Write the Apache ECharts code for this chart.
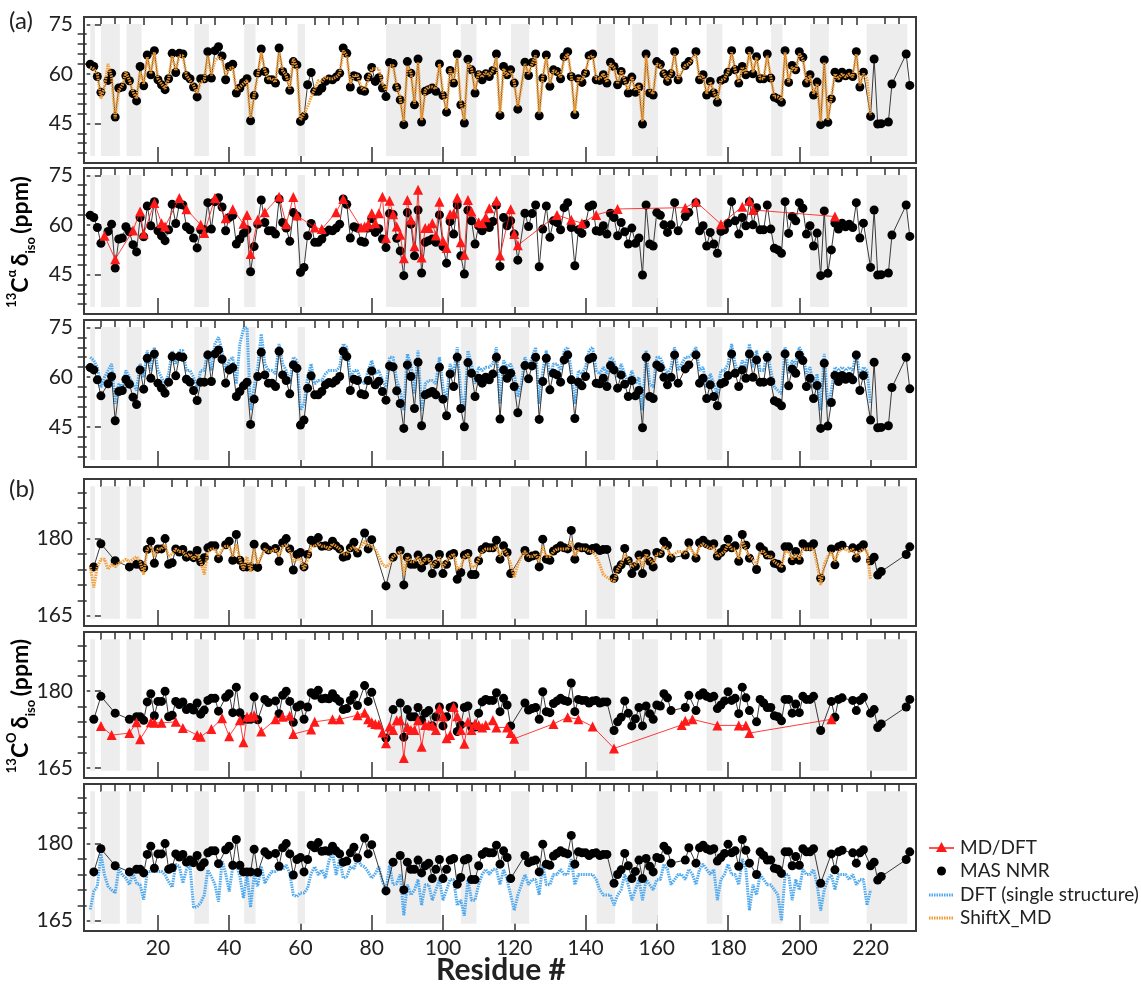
<!DOCTYPE html>
<html>
<head>
<meta charset="utf-8">
<script src="https://cdn.jsdelivr.net/npm/echarts@6/dist/echarts.min.js"></script>
<style>
html,body{margin:0;padding:0;background:#fff}
#main{width:1141px;height:986px}
</style>
</head>
<body>
<div id="main"></div>
<script>
// residue axis ticks
var xMajor = [20, 40, 60, 80, 100, 120, 140, 160, 180, 200, 220];
var xMinor = [4, 8, 12, 16, 24, 28, 32, 36, 44, 48, 52, 56, 64, 68, 72, 76, 84, 88, 92, 96, 104, 108, 112, 116,
  124, 128, 132, 136, 144, 148, 152, 156, 164, 168, 172, 176, 184, 188, 192, 196, 204, 208, 212, 216, 224, 228];
var caMajor = [45, 60, 75];
var caMinor = [36, 39, 42, 48, 51, 54, 57, 63, 66, 69, 72];
var coMajor = [165, 180];
var coMinor = [168, 171, 174, 177, 183, 186, 189];

// shaded residue ranges
var bands = [[1, 2.3], [4, 9.3], [11.2, 15.4], [30.2, 34.3], [44.2, 47.4], [59.2, 61.3], [84, 99.4], [105, 109.4],
  [119.1, 124.2], [143.1, 148.3], [153.1, 160.3], [174, 178.4], [192.1, 195.3], [203, 208.3], [218.9, 230.3]];

// MAS NMR Calpha [residue, ppm]
var caNMR = [[1,62.9],[2,62.2],[3,59.2],[4,54.4],[6,58],[7,60.2],[8,46.9],[9,55.7],[10,56],[11,59.4],[12,57.9],[13,54],[14,51.8],[15,62.2],[16,56.4],[17,65.7],[18,59.7],[19,67],[20,58.2],
  [21,56.7],[22,55.2],[23,58.5],[24,66.2],[25,60.4],[26,66.2],[27,66],[28,59.4],[29,58.5],[30,56],[31,53],[32,58.5],[33,58.5],[34,66.7],[35,58.7],[36,67],[37,68.2],[38,65.4],[39,58.2],[40,62.2],
  [41,62.9],[42,54.2],[43,55.7],[44,57.4],[45,58.5],[46,45.8],[47,53.4],[48,60.2],[49,67.5],[50,60.7],[51,58.2],[52,58.2],[53,57.2],[54,67.8],[55,60.7],[56,59],[57,55],[58,63.7],[59,62.7],[60,45.6],
  [61,47.1],[62,56.7],[63,60.4],[64,54.7],[65,54.7],[66,55.7],[67,57.7],[68,58.4],[69,58.2],[70,59],[71,60.2],[72,67.8],[73,66.2],[74,56],[75,59.4],[76,59],[77,55],[78,54.7],[79,59],[80,61.9],
  [81,57.7],[82,58.8],[83,55.7],[84,53.1],[85,63.4],[86,63.1],[87,55.9],[88,52.1],[89,44.6],[90,63.7],[91,60.2],[92,50.6],[93,64.5],[94,45.4],[95,54.7],[96,55.2],[97,55.7],[98,54.7],[99,63],[100,53.4],
  [101,48.4],[102,61],[103,57.2],[104,66],[105,50.6],[106,45.1],[107,64.4],[108,61.2],[109,54.2],[110,59.7],[111,58.2],[112,60],[113,59.2],[114,61],[115,66],[116,47.4],[117,62.2],[118,59.7],[119,61.2],[120,57.2],
  [121,49.3],[123,63.5],[124,59.5],[125,63.4],[126,66],[127,47.3],[128,58.7],[129,65.7],[130,56.2],[131,61.2],[132,60.7],[133,58.5],[134,65.2],[135,66.7],[136,59.2],[137,47.6],[138,58.5],[139,57.4],[140,60.2],
  [141,65.5],[142,66],[143,58.2],[144,58],[145,59.7],[146,57.2],[147,63.5],[148,62.2],[149,56.7],[150,60.7],[151,57.9],[152,54.2],[153,59],[154,54.4],[155,56],[156,44.8],[157,66],[158,54.2],[159,53.6],[160,63.7],
  [161,62.9],[162,60],[163,57.7],[164,60],[165,66.7],[166,58.2],[168,62.5],[169,63.7],[171,66.7],[172,58.2],[173,59.7],[174,53.6],[175,57.7],[176,54.2],[177,51.4],[178,58],[179,58.5],[180,60.5],
  [181,67],[182,61.2],[183,57.2],[184,62.2],[185,59.7],[186,67],[187,60],[188,65.2],[189,58.5],[190,58.5],[191,66],[192,58.7],[193,52.9],[194,52.4],[195,51.4],[196,67],[197,57.4],[198,62.5],[199,61.2],[200,66.7],
  [201,65],[202,57.2],[203,59.7],[204,53.6],[205,57.5],[206,44.6],[207,64.2],[208,45.3],[209,52.4],[210,60.5],[211,58.7],[212,60.5],[213,59.4],[214,60.2],[215,59.2],[216,66.7],[217,56],[218,60.5],
  [220,47.1],[221,64.5],[222,44.8],[223,44.9],[225,45.4],[226,56.9],[230,66],[231,56.5]];

// ShiftX_MD Calpha, residues 1..220
var caShiftX = [62,61.5,60,52.5,56,63,59,46.5,55,56.5,60.5,58,54.5,52.5,60.5,57,65,60,66.5,58.5,
  57,55.5,58.5,65.5,61,65.5,65.5,59.5,58,56.5,54,57.5,58,65.5,59.5,64,65,64.5,59.5,61.5,
  62,55,56,57,58,46.5,53.5,59.5,66.5,61,58.5,58.5,57.5,66.5,61,59.5,55.5,64.5,62,46,
  48,50,53,55.5,58,57.5,59,58.5,58.5,59,60,67,65.5,57,59.5,59.5,56,55,58.5,61.5,
  61.5,61.5,57,55,62.5,62.5,56.5,52.5,45.5,62.5,60.5,51,63.5,46,55,56,56,55.5,63,54,
  49,61.5,57.5,65,51,46,63.5,61.5,55,60.5,59,60.5,59.5,61,65,48,61.5,59.5,61,57.5,
  50,56,63,60,63,65.5,48,59,65,57,61,60.5,59,64.5,66,59.5,48,59,58,60.5,
  65,65.5,58.5,58.5,60,57.5,63,62,57,61,58,55,59,55,56.5,45.5,65.5,55,54,63,
  62.5,60,58,60,66,58.5,60.5,62.5,63,64.5,66,58.5,59.5,54,57.5,54.5,52,58,58.5,60.5,
  66.5,61,57.5,62,60,66.5,60.5,65,58.5,58.5,65.5,59,53,53,52,66.5,57.5,62,61,66,
  64.5,57.5,59.5,54,57,45.5,63.5,46,53,60,58.5,60,59,60,59,66,56.5,60,58.5,47.5];

// MD/DFT Calpha [residue, ppm]
var caMDDFT = [[5,56.7],[8,49.6],[13,58.3],[15,64],[16,57.3],[19,66.6],[21,60.5],[22,59.5],[26,68.1],[28,64.7],[32,60],[33,57.5],[36,68.1],[39,62],[41,64.7],[44,60.3],[45,63],[46,51.2],[48,61.5],[50,63.8],
  [54,68.5],[56,60.2],[58,68.4],[59,62.8],[64,59.2],[66,58.7],[70,63.8],[72,67.8],[77,59.2],[78,59.5],[79,60.2],[80,63.5],[81,60.5],[82,63.5],[83,68.5],[84,56],[85,67.3],[86,63.2],[87,59.5],[88,57],
  [89,49.9],[90,67.5],[91,61.5],[92,53.5],[93,70.6],[94,50.1],[95,59],[96,59],[97,60.5],[98,56.8],[99,67],[100,55.2],[101,53],[102,63.2],[103,63.4],[104,68.2],[105,54.7],[106,50.9],[107,67.5],[108,64],
  [110,60.8],[111,60.5],[112,62.3],[113,65],[115,67.3],[116,50.7],[119,64.7],[120,57.2],[121,53.8],[132,63],[136,61.5],[139,60.5],[143,63],[149,64.8],[168,65.2],[171,67],[178,60.2],[184,65.5],[186,67.3],[187,64.5],[210,62.5]];

// DFT single structure Calpha, residues 1..220
var caDFT = [66,65,63,57,60,62,64,52,58,57,62,60,58,56,64,60,68,62,69,62,
  60,58,61,68,64,68,68,62,62,60,57,62,62,68,62,70,72,68,62,65,
  66,58,70,74.5,75,50,57,63,73,64,62,62,61,70,64,62,58,66,65,50,
  52,60,64,58,59,59,61,62,62,62,63,70,69,60,62,62,59,58,62,65,
  61,62,59,57,66,66,59,56,50,67,64,55,68,50,58,59,59,58,66,57,
  53,64,61,69,55,50,68,64,58,63,62,63,63,64,69,52,65,63,64,61,
  54,58,66,63,66,69,52,62,68,60,64,64,62,68,69,62,52,62,61,63,
  68,69,62,61,63,61,66,65,60,64,61,58,62,58,60,50,68,58,57,66,
  66,63,61,63,69,62,64,66,66,67,69,62,63,57,61,58,55,62,62,64,
  70,64,61,65,63,70,63,68,62,62,68,62,57,56,55,69,61,65,64,69,
  67,61,63,57,61,50,67,51,56,63,62,63,62,63,62,68,60,63,62,52];

// MAS NMR carbonyl [residue, ppm]
var coNMR = [[2,174.5],[4,179],[8,175.7],[12,174.5],[14,175],[15,175],[16,174.3],[17,177.9],[18,179.5],[19,175.2],[20,178],[21,178],[22,180],[23,175],[24,175.3],[25,178],[26,177.4],[27,177.9],[28,176.4],[29,176.8],
  [30,176.3],[31,177.7],[32,175.5],[33,176.3],[34,178.2],[35,178.6],[36,178.6],[37,176.1],[39,178.8],[40,179.5],[41,175.8],[42,180.8],[43,175.8],[44,174.5],[45,174.5],[46,174.5],[47,178.9],[48,174.4],[50,178.4],[51,177.8],
  [53,178.1],[54,175.6],[55,179.2],[56,180],[57,178],[58,173.9],[59,176.9],[60,177.3],[61,174.5],[62,176.9],[63,179.7],[64,179.2],[65,180.2],[66,178.5],[67,178.6],[68,178.5],[69,179.5],[70,178.6],[71,178],[72,176.4],
  [73,176.6],[74,178.2],[75,179.3],[76,177.2],[78,181.1],[79,178],[80,179.8],[84,170.8],[86,176.4],[88,177.7],[89,171],[90,176.4],[91,175],[92,175],[93,176.8],[94,174.3],[95,175.7],[96,176.2],[97,173.2],[98,175],
  [99,176.9],[100,173.2],[101,175],[102,176.8],[103,177.1],[104,172.1],[105,173.4],[106,176.8],[107,177.1],[108,173],[109,173],[110,175.7],[111,177.9],[112,178.4],[113,178.2],[114,178.2],[115,179.7],[116,176],[117,178.6],[118,177.3],
  [119,173.2],[123,177.7],[124,176.3],[125,176.6],[126,176.8],[127,174.5],[128,179.9],[129,176],[130,175.8],[131,177.6],[132,178.1],[133,178.6],[134,178.2],[135,178],[136,181.6],[137,176],[138,178.4],[139,178.2],[140,178.2],[141,177.7],
  [142,178.1],[143,178.2],[144,177.7],[145,177.9],[146,177.9],[148,172.3],[149,174],[150,174.9],[151,178.1],[152,175.7],[153,173.2],[154,174.6],[155,176.8],[156,173.2],[157,177.1],[158,175.6],[159,174.5],[160,177.3],[161,177.1],[162,179.5],
  [163,178.7],[164,176.2],[168,176.8],[169,179.2],[171,176.2],[172,179.2],[173,179.7],[174,179],[175,178.7],[176,179],[177,176.6],[178,177.3],[179,178.1],[180,179.9],[181,178.2],[182,178.6],[183,175.6],[184,180.8],[185,178.7],[186,176.2],
  [188,174],[189,178.4],[190,177.7],[191,176.8],[192,176.8],[193,175.2],[194,175],[195,174.2],[196,178.4],[197,178.4],[198,175.7],[199,177.5],[200,175.8],[201,179],[202,178.4],[203,178.4],[204,179],[206,172.3],[209,178],[210,174.9],
  [211,178.4],[212,178.7],[215,178.2],[216,176.2],[217,178.2],[218,178.8],[220,175.7],[221,176.4],[222,172.9],[223,173.6],[230,176.9],[231,178.4]];

// ShiftX_MD carbonyl, residues 1..220
var coShiftX = [174.5,170.5,174.5,176,176,174,175,174.5,175.2,175.5,176,175.5,176,176.5,175.5,173,178,178.5,176.5,178,
  178,178.8,176.5,177,178,177.5,177.5,176.5,177,176,177,175.5,173,177.5,178,178,176.5,178,178.5,178.5,
  176.5,179,176,174,176.5,173.5,178,175,176.5,178,177.5,177.5,178,176.5,178.5,178.8,177.5,175.5,176,176,
  174,176,178.5,178.5,179,178.5,178.5,178,179,178.5,178,177,177,178,178.5,177.5,178.5,179.5,178.5,178.5,
  178,176.5,175,174.5,175,176.5,177,177.5,173,176.5,175.5,175.5,176.5,175,176,176,174.5,175.5,176.5,174.5,
  175.5,176.5,177,174,174.5,176.5,177,174.5,174.5,176,177.5,178,178,178,178.5,176.5,178,177,175,172.5,
  175,176.5,177.5,176.5,176.5,177,175.5,178.5,176.5,176.5,177.5,178,178,178,178,179.5,176.5,178,178,178,
  177.5,177.5,176.5,175,173,172.5,172,171.5,174,175,177,176,174.5,175,176.5,174.5,177,176,175,177,
  177,178.5,178,176.5,177,177.5,177.5,177,178.5,177.5,176.5,178.5,179,178.5,178,178.5,176.5,177,177.5,179,
  178,178,176,179.5,178,176.5,176,175,177.5,177.5,176.5,176.5,175.5,175,174.5,177.5,177.5,176,177,176,
  178,178,178,178,175,171,175,176.5,177.5,175.5,177.5,178,178,177.5,178,176.5,177.5,178,177.5,172];

// MD/DFT carbonyl [residue, ppm]
var coMDDFT = [[4,173.2],[7,171.4],[12,171.8],[14,173.9],[15,170.6],[18,173.9],[19,173.8],[21,173.8],[25,174],[27,172.8],[31,171.4],[32,171.1],[35,172.6],[38,174.7],[40,171.2],[43,174.3],[44,170],[45,175],[46,175],[47,175.3],
  [49,172.1],[53,174.5],[55,175],[57,175.2],[58,171.6],[63,172.5],[64,174],[69,174.5],[71,174.5],[76,175.3],[78,175.8],[79,174.5],[80,173.9],[81,173.6],[82,173.5],[83,171.9],[84,169.8],[85,173.1],[86,172.4],[87,174.3],
  [88,174.3],[89,166.9],[90,173],[91,172.4],[92,172.4],[93,174.3],[94,169.1],[95,173.4],[96,173.4],[97,173.3],[98,172.4],[99,176.6],[100,175.1],[101,170.8],[102,171.4],[103,176.9],[104,175.1],[105,172.4],[106,169.7],[107,174],
  [108,172.4],[109,173.7],[110,173.4],[111,172.9],[112,173.4],[114,174.3],[115,172.9],[118,172.9],[119,171.8],[120,170.7],[131,173.6],[135,174.9],[138,174.5],[142,173.1],[148,168.8],[167,173.4],[168,174.2],[170,174.5],[177,173.3],[183,173.3],
  [185,173.3],[186,171.8],[209,174.5]];

// DFT single structure carbonyl, residues 1..220
var coDFT = [167.2,170.7,171.7,178,173.9,171.7,171,170.4,175.1,173.9,173.3,172,174.2,172.3,172,169.1,174.5,174.6,174.6,174.6,
  174.6,173.9,172.6,171.5,176,175.6,172.3,174.9,175.8,167.6,167.7,168.5,170,174.9,173.6,172,168.7,176.7,174.2,170.7,
  175.5,176,173.6,169.4,174.2,167.6,173.9,171.7,175.6,172.3,173.6,174.6,174.6,175.1,174.9,175.8,174.2,170,169.7,170.4,
  170.4,171.3,174.2,175.5,173.9,174.9,173.3,176.7,178.3,173.9,177,173.3,173.6,175.5,175.1,177,175.8,175.5,174.5,173.3,
  174.2,175.5,172.6,171,175.8,172,172.2,174,166,172,170,171,173,168,172,172,169,171,173,169,
  171,173,173,168,169,166,173,169,169,172,174,175,174,175,175,172,175,173,170,167,
  170,172,174,172,173,173,170,176,172,172,174,174,175,174,174,177,172,174,174,174,
  174,174,173,171,170,170,170,168,170,171,174,172,169,171,173,169,173,172,171,173,
  173,176,175,172,173,174,174,173,175,174,172,175,176,175,174,175,169,173,174,176,
  174,174,172,177,175,167,172,170,174,173,172,172,171,170,165,174,174,169,173,171,
  175,174,174,175,172,167,171,173,174,171,174,174,174,173,174,172,173,173,168,171];

var ranges = {
  ca: { min: 33, max: 77.2, lo: 35.1, hi: 75.1, major: caMajor, minor: caMinor },
  co: { min: 163, max: 191.6, lo: 164.4, hi: 190.2, major: coMajor, minor: coMinor }
};

var panels = [
  { top: 17, h: 146, kind: 'ca', extra: 'shiftx' },
  { top: 168, h: 146, kind: 'ca', extra: 'mddft' },
  { top: 320, h: 147, kind: 'ca', extra: 'dft' },
  { top: 479, h: 147, kind: 'co', extra: 'shiftx' },
  { top: 632, h: 146, kind: 'co', extra: 'mddft' },
  { top: 784, h: 147, kind: 'co', extra: 'dft' }
];

var FONT = 'Lato';
var ORANGE = '#f29b30', BLUE = '#4ea8ee', RED = '#ff1a1a';

function byResidue(arr) {
  return arr.map(function (v, i) { return [i + 1, v]; });
}

var grids = [], xAxes = [], yAxes = [], series = [];

panels.forEach(function (p, i) {
  var r = ranges[p.kind];
  var last = i === panels.length - 1;
  grids.push({ left: 84, width: 832, top: p.top, height: p.h, show: true, borderColor: '#3a3a3a', borderWidth: 2, backgroundColor: 'transparent' });

  xAxes.push({
    type: 'value', gridIndex: i, min: -0.75, max: 232.75,
    axisLine: { show: false }, splitLine: { show: false },
    axisTick: { show: true, inside: true, length: 16, customValues: xMajor, lineStyle: { color: '#333', width: 1.5 } },
    axisLabel: { show: last, customValues: xMajor, fontSize: 21, color: '#222', fontFamily: FONT, margin: 7 }
  });
  xAxes.push({
    type: 'value', gridIndex: i, min: -0.75, max: 232.75,
    axisLine: { show: false }, splitLine: { show: false }, axisLabel: { show: false },
    axisTick: { show: true, inside: true, length: 8, customValues: xMinor, lineStyle: { color: '#333', width: 1.5 } }
  });
  yAxes.push({
    type: 'value', gridIndex: i, min: r.min, max: r.max,
    axisLine: { show: false }, splitLine: { show: false },
    axisTick: { show: true, inside: true, length: 16, customValues: r.major, lineStyle: { color: '#333', width: 1.5 } },
    axisLabel: { customValues: r.major, fontSize: 21, color: '#222', fontFamily: FONT, margin: 11 }
  });
  yAxes.push({
    type: 'value', gridIndex: i, min: r.min, max: r.max,
    axisLine: { show: false }, splitLine: { show: false }, axisLabel: { show: false },
    axisTick: { show: true, inside: true, length: 9, customValues: r.minor, lineStyle: { color: '#333', width: 1.5 } }
  });

  var xi = 2 * i, yi = 2 * i;

  series.push({
    type: 'custom', xAxisIndex: xi, yAxisIndex: yi, z: 1, silent: true, clip: false,
    data: bands, encode: { x: [0, 1] },
    renderItem: function (params, api) {
      var a = api.coord([api.value(0), r.hi]);
      var b = api.coord([api.value(1), r.lo]);
      return { type: 'rect', shape: { x: a[0], y: a[1], width: b[0] - a[0], height: b[1] - a[1] }, style: { fill: '#ededed' } };
    }
  });

  series.push({
    name: 'MAS NMR', type: 'line', xAxisIndex: xi, yAxisIndex: yi, z: 3,
    data: p.kind === 'ca' ? caNMR : coNMR,
    symbol: 'circle', symbolSize: 9,
    itemStyle: { color: '#000' },
    lineStyle: { color: '#3a3a3a', width: 1 }
  });

  if (p.extra === 'shiftx') {
    series.push({
      name: 'ShiftX_MD', type: 'line', xAxisIndex: xi, yAxisIndex: yi, z: 4,
      data: byResidue(p.kind === 'ca' ? caShiftX : coShiftX),
      symbol: 'none', lineStyle: { color: ORANGE, width: 3, type: [1.5, 1], opacity: 0.95 }
    });
  } else if (p.extra === 'dft') {
    series.push({
      name: 'DFT (single structure)', type: 'line', xAxisIndex: xi, yAxisIndex: yi, z: 2,
      data: byResidue(p.kind === 'ca' ? caDFT : coDFT),
      symbol: 'none', lineStyle: { color: BLUE, width: 3, type: [1.5, 1] }
    });
  } else {
    series.push({
      name: 'MD/DFT', type: 'line', xAxisIndex: xi, yAxisIndex: yi, z: 4,
      data: p.kind === 'ca' ? caMDDFT : coMDDFT,
      symbol: 'triangle', symbolSize: 10,
      itemStyle: { color: RED },
      lineStyle: { color: RED, width: 1, opacity: 0.85 }
    });
  }
});

var titleRich = {
  b: { fontSize: 23, fontWeight: 'bold', fontFamily: FONT, color: '#111', lineHeight: 32 },
  sup: { fontSize: 13, fontWeight: 'bold', fontFamily: FONT, color: '#111', verticalAlign: 'top', lineHeight: 32 },
  sub: { fontSize: 13, fontWeight: 'bold', fontFamily: FONT, color: '#111', verticalAlign: 'bottom', lineHeight: 32 }
};

var legendItems = [
  { name: 'MD/DFT', y: 848 },
  { name: 'MAS NMR', y: 871 },
  { name: 'DFT (single structure)', y: 895 },
  { name: 'ShiftX_MD', y: 918 }
];

var graphics = [
  { type: 'text', left: 9, top: 9, style: { text: '(a)', fontSize: 24, fontFamily: FONT, fill: '#222' } },
  { type: 'text', left: 9, top: 477, style: { text: '(b)', fontSize: 24, fontFamily: FONT, fill: '#222' } },
  { type: 'text', x: 21, y: 242, rotation: Math.PI / 2,
    style: { text: '{sup|13}{b|C}{sup|α} {b|δ}{sub|iso} {b|(ppm)}', rich: titleRich, align: 'center', verticalAlign: 'middle' } },
  { type: 'text', x: 21, y: 706, rotation: Math.PI / 2,
    style: { text: '{sup|13}{b|C}{sup|O} {b|δ}{sub|iso} {b|(ppm)}', rich: titleRich, align: 'center', verticalAlign: 'middle' } },
  { type: 'text', x: 501, y: 970, style: { text: 'Residue #', fontSize: 30, fontWeight: 'bold', fontFamily: FONT, fill: '#222', align: 'center', verticalAlign: 'middle' } }
];

// legend drawn by hand (icons differ per entry)
legendItems.forEach(function (it, k) {
  var x0 = 929, x1 = 954;
  if (k === 0) {
    graphics.push({ type: 'line', shape: { x1: x0, y1: it.y, x2: x1, y2: it.y }, style: { stroke: RED, lineWidth: 1.5 } });
    graphics.push({ type: 'polygon', shape: { points: [[941.5, it.y - 6], [936, it.y + 4], [947, it.y + 4]] }, style: { fill: RED } });
  } else if (k === 1) {
    graphics.push({ type: 'circle', shape: { cx: 941.5, cy: it.y, r: 4.5 }, style: { fill: '#000' } });
  } else {
    graphics.push({ type: 'line', shape: { x1: x0, y1: it.y, x2: x1, y2: it.y },
      style: { stroke: k === 2 ? BLUE : ORANGE, lineWidth: 3, lineDash: [1.5, 1] } });
  }
  graphics.push({ type: 'text', x: 960, y: it.y, style: { text: it.name, fontSize: 19, fontFamily: FONT, fill: '#222', verticalAlign: 'middle' } });
});

var chart = echarts.init(document.getElementById('main'));
chart.setOption({
  animation: false,
  backgroundColor: '#fff',
  grid: grids,
  xAxis: xAxes,
  yAxis: yAxes,
  series: series,
  graphic: graphics
});
</script>
</body>
</html>
